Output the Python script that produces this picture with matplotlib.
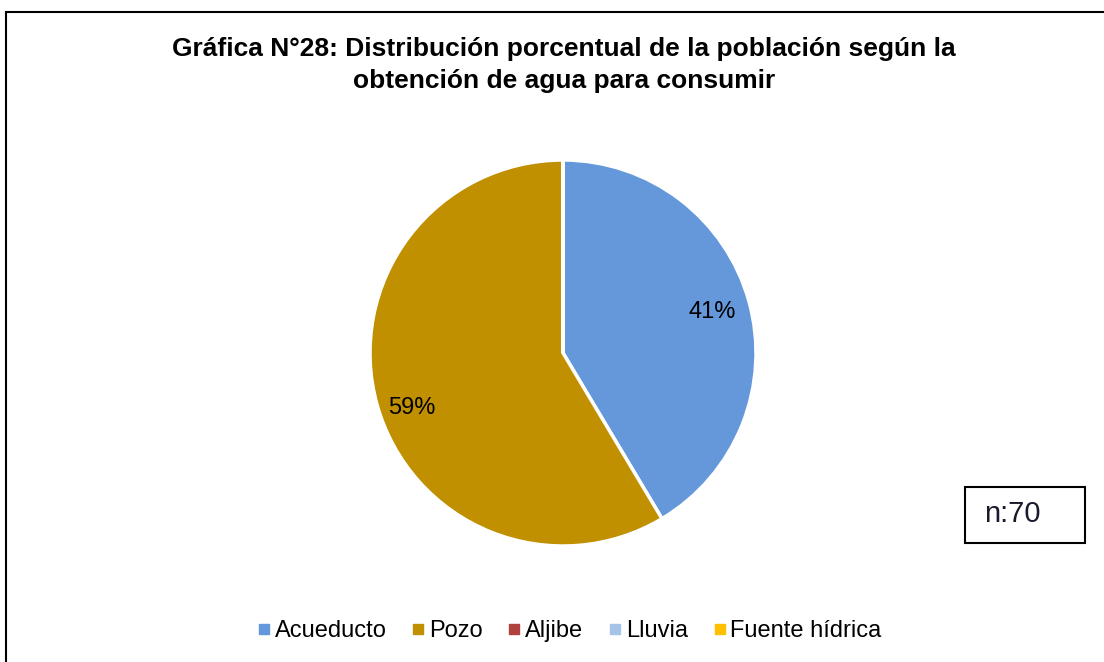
import matplotlib
matplotlib.use('Agg')
import matplotlib.pyplot as plt
from matplotlib.patches import Rectangle
from matplotlib.lines import Line2D

plt.rcParams['font.family'] = ['Liberation Sans', 'DejaVu Sans']

# datos
categorias = ['Acueducto', 'Pozo', 'Aljibe', 'Lluvia', 'Fuente hídrica']
valores = [29, 41, 0, 0, 0]
colores = ['#6498DA', '#C09000', '#B0413E', '#A5C4E8', '#FFC000']
titulo = 'Gráfica N°28: Distribución porcentual de la población según la\nobtención de agua para consumir'
n_texto = 'n:70'

W, H = 1104, 662
fig = plt.figure(figsize=(W / 100, H / 100), dpi=100)

# marco exterior
fig.patches.append(Rectangle((6 / W, -0.02), 1.02, 1 - 12 / H + 0.02,
                             transform=fig.transFigure, fill=False,
                             edgecolor='black', linewidth=1.5))

fig.text(564 / W, 1 - 65 / H, titulo, ha='center', va='center',
         fontsize=19, fontweight='bold', linespacing=1.4)

# pastel
cx, cy, r = 563, 353, 193
ax = fig.add_axes([(cx - r) / W, (H - cy - r) / H, 2 * r / W, 2 * r / H])


def pct(p):
    return '' if p < 0.5 else '%.0f%%' % p


wedges, texts, autotexts = ax.pie(
    valores, colors=colores, startangle=90, counterclock=False,
    autopct=pct, pctdistance=0.8, radius=1,
    wedgeprops=dict(edgecolor='white', linewidth=2.5),
    textprops=dict(fontsize=17, color='black'))
# ajuste ligero de la etiqueta de Pozo (Excel "mejor ajuste")
x, y = autotexts[1].get_position()
autotexts[1].set_position((x - 0.01, y - 0.07))

ax.set_xlim(-1, 1)
ax.set_ylim(-1, 1)
ax.set_aspect('equal')
ax.axis('off')

# leyenda
handles = [Line2D([], [], marker='s', linestyle='none', markersize=6.5,
                  markerfacecolor=c, markeredgecolor=c) for c in colores]
fig.legend(handles, categorias, loc='center', bbox_to_anchor=(568 / W, 1 - 631 / H),
           ncol=5, frameon=False, fontsize=17, handletextpad=0.05,
           columnspacing=0.95, handlelength=0.8)

# cuadro n
fig.patches.append(Rectangle((965 / W, 1 - 543 / H), 120 / W, 56 / H,
                             transform=fig.transFigure, fill=False,
                             edgecolor='black', linewidth=1.5))
fig.text(1012 / W, 1 - 514 / H, n_texto, ha='center', va='center',
         fontsize=21, color='#1a1a2e')

fig.savefig('out.png', dpi=100)
